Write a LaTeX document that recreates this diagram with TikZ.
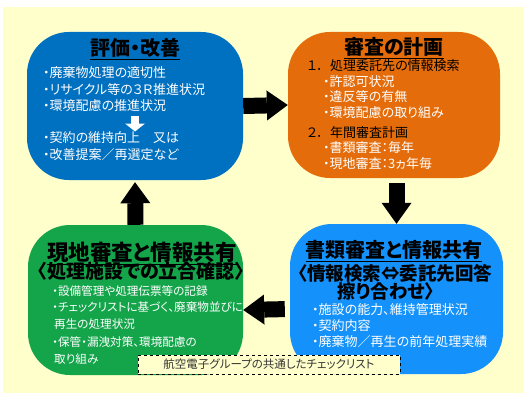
\documentclass[tikz,border=0pt]{standalone}
\usepackage{fontspec}
\setmainfont{Noto Sans CJK JP}[CharacterWidth=AlternateProportional]
\usetikzlibrary{arrows.meta}

\definecolor{bgyellow}{RGB}{255,255,204}
\definecolor{evalblue}{RGB}{0,112,192}
\definecolor{planorange}{RGB}{228,108,10}
\definecolor{sitegreen}{RGB}{20,165,75}
\definecolor{checkblue}{RGB}{20,145,250}

\begin{document}
\begin{tikzpicture}[x=1pt,y=-1pt]
  \tikzstyle{phase}=[rounded corners=42pt, inner sep=0pt]
  \tikzstyle{heading}=[anchor=base, inner sep=0pt, font=\fontsize{20}{24}\selectfont\bfseries]
  \tikzstyle{body}=[anchor=north west, inner sep=0pt, align=left, text=white, font=\fontsize{13}{16.5}\selectfont]
  \tikzstyle{flow}=[line width=16pt, -{Triangle[width=30pt,length=21pt,line width=0pt]}]
  \tikzstyle{smallflow}=[line width=8pt, white, -{Triangle[width=20pt,length=8pt,line width=0pt]}]

  \useasboundingbox (0,0) rectangle (529,404);
  \fill[bgyellow] (3,7) rectangle (523,393);

  \node[phase, fill=evalblue, minimum width=216, minimum height=148] (eval) at (135,106) {};
  \node[phase, fill=planorange, minimum width=212, minimum height=146] (plan) at (394,105) {};
  \node[phase, fill=sitegreen, minimum width=215, minimum height=150] (site) at (135.5,300) {};
  \node[phase, fill=checkblue, minimum width=213, minimum height=150] (check) at (396.5,299) {};

  \draw[flow] (eval.east) -- (plan.west);
  \draw[flow, shorten <=5pt] (plan.south -| check.north) -- (check.north);
  \draw[flow, shorten <=5pt] ([yshift=-10pt]check.west) -- ([yshift=-10pt]site.east);
  \draw[flow, shorten >=2pt] (site.north) -- (eval.south);

  \node[draw, dashed, line width=0.8pt, fill=bgyellow, minimum width=262, minimum height=19, inner sep=0pt, font=\fontsize{11.5}{12}\selectfont, text=black!80] (shared) at (269,364.5) {航空電子グループの共通したチェックリスト};

  % 評価・改善
  \node[heading] (evaltitle) at (135,56) {\underline{評価・改善}};
  \node[body] (evaltop) at (43,66.5) {・廃棄物処理の適切性\\・リサイクル等の３Ｒ推進状況\\・環境配慮の推進状況};
  \node[body] (evalbot) at (43,131.5) {・契約の維持向上　又は\\・改善提案／再選定など};
  \draw[smallflow, shorten <=4pt] (evaltop.south -| eval.center) -- (evalbot.north -| eval.center);

  % 審査の計画
  \node[heading] (plantitle) at (394,54.6) {\underline{審査の計画}};
  \node[body, text=black, font=\fontsize{13}{15.5}\selectfont] (planlist) at (307,59.5) {\makebox[23pt][l]{１．}処理委託先の情報検索\\
    \hspace*{16pt}\textcolor{white}{・許認可状況}\\
    \hspace*{16pt}\textcolor{white}{・違反等の有無}\\
    \hspace*{16pt}\textcolor{white}{・環境配慮の取り組み}\\[4.5pt]%
    \makebox[23pt][l]{２．}年間審査計画\\
    \hspace*{16pt}\textcolor{white}{・書類審査：毎年}\\
    \hspace*{16pt}\textcolor{white}{・現地審査：3ヵ年毎}};

  % 現地審査と情報共有
  \node[heading, font=\fontsize{21.5}{24}\selectfont\bfseries] (sitetitle) at (142,260.2) {\underline{現地審査と情報共有}};
  \node[heading, font=\fontsize{19}{22}\selectfont\bfseries] (sitesub) at (141,278.2) {〈処理施設での立合確認〉};
  \node[body, font=\fontsize{11.6}{16.5}\selectfont] (sitelist) at (52,285.3) {・設備管理や処理伝票等の記録\\
    ・チェックリストに基づく、廃棄物並びに\\
    \hspace*{2pt}再生の処理状況\\[2pt]%
    ・保管・漏洩対策、環境配慮の\\
    \hspace*{2pt}取り組み};

  % 書類審査と情報共有
  \node[heading] (checktitle) at (394,257.6) {\underline{書類審査と情報共有}};
  \node[heading, font=\fontsize{18.5}{20}\selectfont\bfseries] (checksub) at (395,280) {〈情報検索⇔委託先回答};
  \node[heading, font=\fontsize{18.5}{20}\selectfont\bfseries] (checksubb) at (386,298) {擦り合わせ〉};
  \node[body, font=\fontsize{13}{16}\selectfont] (checklist) at (312,303.5) {・施設の能力、維持管理状況\\・契約内容\\・廃棄物／再生の前年処理実績};
\end{tikzpicture}
\end{document}
